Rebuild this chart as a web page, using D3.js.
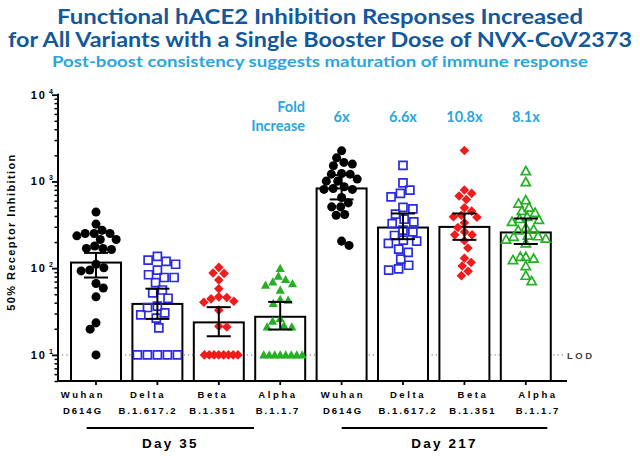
<!DOCTYPE html>
<html><head><meta charset="utf-8">
<script src="https://cdn.jsdelivr.net/npm/d3@7/dist/d3.min.js"></script>
<style>body{margin:0;background:#fff} svg{display:block}</style>
</head><body><svg id="c" width="640" height="459"></svg>
<script>
// ---------- data ----------
const categories = ["Wuhan35","Delta35","Beta35","Alpha35","Wuhan217","Delta217","Beta217","Alpha217"];
const variantNames = ["Wuhan","Delta","Beta","Alpha","Wuhan","Delta","Beta","Alpha"];
const lineageNames = ["D614G","B.1.617.2","B.1.351","B.1.1.7","D614G","B.1.617.2","B.1.351","B.1.1.7"];
const dayGroups = ["Day 35","Day 217"];
const geoMean = [116, 38.7, 23.7, 27.5, 830, 294, 299, 258];
const ciLow  = [78, 26, 16.4, 19.6, 620, 216, 212, 190];
const ciHigh = [150, 58, 35.5, 40.8, 1183, 427, 427, 374];
const foldIncrease = ["6x","6.6x","10.8x","8.1x"];
const yMajorTicks = [10, 100, 1000, 10000];
const lodValue = 10;

const wuhan35 = [443,322,274,251,251,251,236,214,214,180,169,169,164,111,101,95,93,66.5,59,46.7,23.4,19.8,10];
const delta35 = [137,124,120,111,95,84,78,78,68,56,52,45,36.5,35.2,30.5,28.9,26.5,20.5,10,10,10,10,10];
const beta35 = [102,88,87,73,58,46.7,45.9,44.3,41.6,40.5,32.8,21.4,21,10,10,10,10,10,10,10,10];
const alpha35 = [99.6,81,74,69.5,66.5,63.7,55.7,43.6,42.7,39.2,26.3,24.5,21.8,21,21,10,10,10,10,10,10,10,10];
const wuhan217 = [2254,1871,1656,1585,1514,1236,1213,1213,1064,1008,1008,867,830,809,809,653,566,509,509,416,408,205,183];
const delta217 = [1531,964,795,728,664,501,483,420,367,342,327,274,262,238,210,205,193,166,152,127,108,98,95];
const beta217 = [2275,795,728,678,620,496,454,408,391,387,333,294,262,242,242,207,171,130,116,106,92,82];
const alpha217 = [1315,982,608,557,501,458,435,391,370,361,342,292,279,274,238,234,230,220,214,194,135,135,129,124,106,82,71];
const seriesValues = [wuhan35, delta35, beta35, alpha35, wuhan217, delta217, beta217, alpha217];

// ---------- styles ----------
const BLACK = "#000", BLUE = "#2a2ae0", RED = "#ee1c1c", GREEN = "#25b025";
const markerStyle = [
  {shape:"circle", fill:BLACK, stroke:"none", c:8.6, tie:9},
  {shape:"square", fill:"none", stroke:BLUE, c:10, tie:10},
  {shape:"diamond", fill:RED, stroke:"none", c:8, tie:4.8},
  {shape:"triangle", fill:GREEN, stroke:"none", c:8, tie:5.5},
  {shape:"circle", fill:BLACK, stroke:"none", c:8.6, tie:9},
  {shape:"square", fill:"none", stroke:BLUE, c:10, tie:10},
  {shape:"diamond", fill:RED, stroke:"none", c:8, tie:4.8},
  {shape:"triangle", fill:"none", stroke:GREEN, c:8, tie:5.5}
];
const TITLE = "#13589b", LIGHTBLUE = "#29a6de";
const AX = "Liberation Sans, Arial, sans-serif";
const TF = "Lato, 'Open Sans', sans-serif";

const svg = d3.select("#c");

// ---------- scales ----------
const x = d3.scaleBand().domain(categories).range([65.3, 556.5]).paddingInner(0.186).paddingOuter(0.093);
const y = d3.scaleLog().domain([5, 10000]).range([381, 94.7]);
const labelX = d3.scalePoint().domain(categories).range([83, 538]);
const cx = c => x(c) + x.bandwidth() / 2;

// ---------- titles ----------
svg.append("text").attr("x",320).attr("y",24).attr("text-anchor","middle")
  .attr("font-family",TF).attr("font-weight",700).attr("font-size",21).attr("fill",TITLE)
  .attr("textLength",526).attr("lengthAdjust","spacingAndGlyphs")
  .text("Functional hACE2 Inhibition Responses Increased");
svg.append("text").attr("x",320).attr("y",47).attr("text-anchor","middle")
  .attr("font-family",TF).attr("font-weight",700).attr("font-size",21).attr("fill",TITLE)
  .attr("textLength",624).attr("lengthAdjust","spacingAndGlyphs")
  .text("for All Variants with a Single Booster Dose of NVX-CoV2373");
svg.append("text").attr("x",320).attr("y",67).attr("text-anchor","middle")
  .attr("font-family",TF).attr("font-weight",700).attr("font-size",15.5).attr("fill",LIGHTBLUE)
  .attr("textLength",536).attr("lengthAdjust","spacingAndGlyphs")
  .text("Post-boost consistency suggests maturation of immune response");

// ---------- y axis ----------
const minorTicks = [];
for (let e = 0; e < 4; e++) for (let m = 2; m <= 9; m++) {
  const v = m * Math.pow(10, e);
  if (v >= 5 && v < 10000) minorTicks.push(v);
}
const yAxisG = svg.append("g").attr("transform","translate(58,0)");
yAxisG.append("g").call(d3.axisLeft(y).tickValues(minorTicks).tickSize(3.5).tickFormat(""))
  .call(g => g.select(".domain").remove())
  .call(g => g.selectAll("line").attr("stroke","#000").attr("stroke-width",1.5));
yAxisG.append("g").call(d3.axisLeft(y).tickValues(yMajorTicks).tickSize(6).tickFormat(""))
  .call(g => g.select(".domain").remove())
  .call(g => g.selectAll("line").attr("stroke","#000").attr("stroke-width",1.8));
yAxisG.append("line").attr("x1",0).attr("x2",0).attr("y1",y(10000)-1).attr("y2",y(5))
  .attr("stroke","#000").attr("stroke-width",2);
yMajorTicks.forEach(v => {
  svg.append("text").attr("x",47).attr("y",y(v)+4).attr("text-anchor","end")
    .attr("font-family",AX).attr("font-weight",700).attr("font-size",11).attr("letter-spacing",2)
    .attr("fill","#000").text("10");
  svg.append("text").attr("x",49).attr("y",y(v)-1).attr("font-family",AX).attr("font-weight",700)
    .attr("font-size",7).attr("fill","#000").text(String(Math.round(Math.log10(v))));
});
svg.append("text").attr("transform",`translate(15,${232}) rotate(-90)`).attr("text-anchor","middle")
  .attr("font-family",AX).attr("font-weight",700).attr("font-size",11).attr("letter-spacing",1.4)
  .attr("fill","#000").text("50% Receptor Inhibition");

// ---------- LOD ----------
svg.append("line").attr("x1",62).attr("x2",563).attr("y1",y(lodValue)).attr("y2",y(lodValue))
  .attr("stroke","#888").attr("stroke-width",1.2).attr("stroke-dasharray","1.2,3");
svg.append("text").attr("x",567).attr("y",y(lodValue)+4).attr("font-family",AX).attr("font-weight",700)
  .attr("font-size",9.5).attr("letter-spacing",2.5).attr("fill","#444").text("LOD");

// ---------- bars ----------
svg.append("g").selectAll("rect").data(categories).join("rect")
  .attr("x", c => x(c)).attr("width", x.bandwidth())
  .attr("y", (c,i) => y(geoMean[i])).attr("height", (c,i) => y(5) - y(geoMean[i]))
  .attr("fill","#fff").attr("stroke","#000").attr("stroke-width",2);

// ---------- x axis ----------
svg.append("g").attr("transform",`translate(0,${y(5)})`)
  .call(d3.axisBottom(x).tickSize(4).tickFormat(""))
  .call(g => g.select(".domain").remove())
  .call(g => g.selectAll("line").attr("stroke","#000").attr("stroke-width",1.8));
svg.append("line").attr("x1",57).attr("x2",567).attr("y1",y(5)).attr("y2",y(5))
  .attr("stroke","#000").attr("stroke-width",2);
categories.forEach((c,i) => {
  svg.append("text").attr("x",labelX(c)).attr("y",398).attr("text-anchor","middle")
    .attr("font-family",AX).attr("font-weight",700).attr("font-size",9.5).attr("letter-spacing",2.6)
    .attr("fill","#000").text(variantNames[i]);
  svg.append("text").attr("x",labelX(c)).attr("y",414).attr("text-anchor","middle")
    .attr("font-family",AX).attr("font-weight",700).attr("font-size",9.5).attr("letter-spacing",2)
    .attr("fill","#000").text(lineageNames[i]);
});
// group brackets
const groupLine = [[86.7,254],[341.7,547.3]];
dayGroups.forEach((label,gi) => {
  const [a,b] = groupLine[gi];
  svg.append("line").attr("x1",a).attr("x2",b).attr("y1",428).attr("y2",428)
    .attr("stroke","#000").attr("stroke-width",2.2);
  svg.append("text").attr("x",(a+b)/2).attr("y",448).attr("text-anchor","middle")
    .attr("font-family",AX).attr("font-weight",700).attr("font-size",13.5).attr("letter-spacing",2.2)
    .attr("fill","#000").text(label);
});

// ---------- fold increase ----------
svg.append("text").attr("x",305).attr("y",112).attr("text-anchor","end").attr("font-family",TF)
  .attr("font-weight",700).attr("font-size",14.5).attr("fill",LIGHTBLUE).text("Fold");
svg.append("text").attr("x",305).attr("y",131).attr("text-anchor","end").attr("font-family",TF)
  .attr("font-weight",700).attr("font-size",14.5).attr("fill",LIGHTBLUE).text("Increase");
foldIncrease.forEach((f,i) => {
  svg.append("text").attr("x",cx(categories[i+4])).attr("y",122).attr("text-anchor","middle")
    .attr("font-family",TF).attr("font-weight",700).attr("font-size",14.5).attr("fill",LIGHTBLUE).text(f);
});

// ---------- points (beeswarm) ----------
function swarm(values, c, tieGap) {
  const idx = values.map((v,i)=>i).sort((a,b)=>values[b]-values[a]);
  const placed = [], out = new Array(values.length);
  let k = 0;
  for (const i of idx) {
    const py = y(values[i]);
    const iv = [];
    for (const p of placed) {
      if (p.v === values[i]) { iv.push([p.dx - tieGap, p.dx + tieGap]); continue; }
      const dy = Math.abs(p.py - py);
      if (dy < c) { const w = Math.sqrt(c*c - dy*dy); iv.push([p.dx - w, p.dx + w]); }
    }
    const cands = [0];
    iv.forEach(([a,b]) => cands.push(a, b));
    const valid = cands.filter(xv => iv.every(([a,b]) => xv <= a + 1e-6 || xv >= b - 1e-6));
    valid.sort((a,b) => (Math.abs(a)-Math.abs(b)) || (k % 2 ? a-b : b-a));
    out[i] = valid[0];
    placed.push({py, dx: valid[0], v: values[i]});
    k++;
  }
  return out;
}
function shapePath(shape) {
  if (shape === "circle") return d3.symbol(d3.symbolCircle, 64)();
  if (shape === "square") return "M-4,-4H4V4H-4Z";
  if (shape === "diamond") return "M0,-4.8L4.8,0L0,4.8L-4.8,0Z";
  if (shape === "triangle") return "M0,-4.6L4.6,3.6L-4.6,3.6Z";
}
const ptsG = svg.append("g");
seriesValues.forEach((vals, si) => {
  const st = markerStyle[si];
  const offs = swarm(vals, st.c, st.tie);
  const center = cx(categories[si]);
  ptsG.append("g").selectAll("path").data(vals).join("path")
    .attr("d", shapePath(st.shape))
    .attr("transform", (v,i) => `translate(${center + offs[i]},${y(v)})`)
    .attr("fill", st.fill).attr("stroke", st.stroke).attr("stroke-width", 1.7);
});

// ---------- error bars ----------
const eb = svg.append("g").attr("stroke","#000").attr("stroke-width",2);
categories.forEach((c,i) => {
  const xc = cx(c);
  eb.append("line").attr("x1",xc).attr("x2",xc).attr("y1",y(ciLow[i])).attr("y2",y(ciHigh[i]));
  eb.append("line").attr("x1",xc-12).attr("x2",xc+12).attr("y1",y(ciLow[i])).attr("y2",y(ciLow[i]));
  eb.append("line").attr("x1",xc-12).attr("x2",xc+12).attr("y1",y(ciHigh[i])).attr("y2",y(ciHigh[i]));
});
</script></body></html>
